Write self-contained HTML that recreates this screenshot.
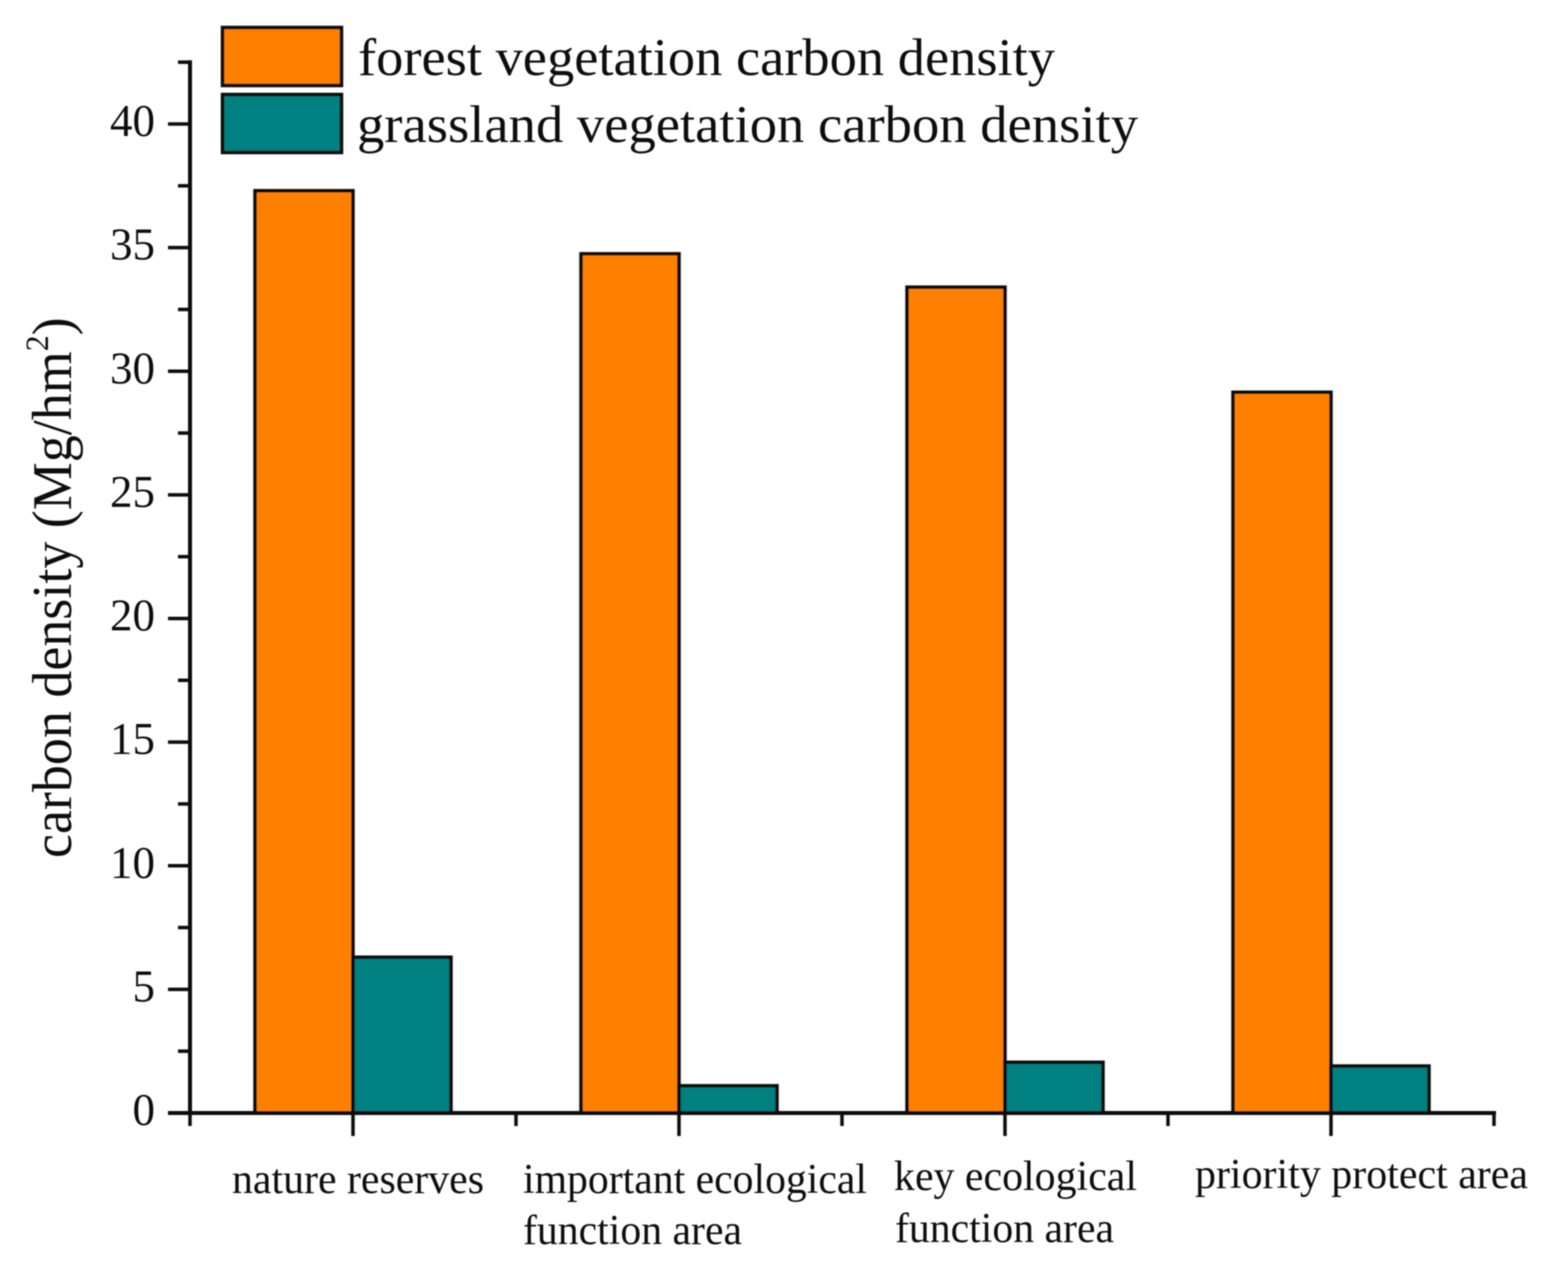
<!DOCTYPE html>
<html lang="en">
<head>
<meta charset="utf-8">
<title>Carbon density by area type</title>
<style>
html,body{margin:0;padding:0;background:#fff;width:1554px;height:1279px;overflow:hidden}
svg{display:block}
text{font-family:"Liberation Serif",serif;fill:#111}
</style>
</head>
<body>
<svg id="chart" width="1554" height="1279" viewBox="0 0 1554 1279" xmlns="http://www.w3.org/2000/svg">
<defs><filter id="soft" x="-2%" y="-2%" width="104%" height="104%"><feGaussianBlur stdDeviation="0.6"/></filter></defs>
<g id="root" filter="url(#soft)">
<g>
<rect x="222.5" y="27.5" width="119" height="58" fill="#ff8000" stroke="#111" stroke-width="3.5"/>
<text x="358" y="75" font-size="53" textLength="697" lengthAdjust="spacingAndGlyphs">forest vegetation carbon density</text>
<rect x="222.5" y="94.5" width="119" height="58" fill="#008080" stroke="#111" stroke-width="3.5"/>
<text x="357" y="142" font-size="53" textLength="781" lengthAdjust="spacingAndGlyphs">grassland vegetation carbon density</text>
</g>
<text transform="translate(71,858) rotate(-90) scale(0.964,1)" font-size="56">carbon density (Mg/hm<tspan font-size="33" dy="-23">2</tspan><tspan dy="23">)</tspan></text>
</g>
<script>
var categories = ["nature reserves", "important ecological function area", "key ecological function area", "priority protect area"];
var forestValues = [37.3, 34.75, 33.4, 29.15];
var grasslandValues = [6.3, 1.1, 2.05, 1.9];
var yTickLabels = ["0", "5", "10", "15", "20", "25", "30", "35", "40"];
var yMinorTicks = [2.5, 7.5, 12.5, 17.5, 22.5, 27.5, 32.5, 37.5, 42.5];
var categoryLines = [["nature reserves"], ["important ecological", "function area"], ["key ecological", "function area"], ["priority protect area"]];

var NS = 'http://www.w3.org/2000/svg';
var root = document.getElementById('root');
var plotLeft = 190, plotRight = 1494, plotBottom = 1113, unitHeight = 24.725;
var slotWidth = (plotRight - plotLeft) / categories.length;
var barWidth = 98;
function yScale(v) { return plotBottom - v * unitHeight; }
function xCenter(i) { return plotLeft + slotWidth * (i + 0.5); }
function make(tag, attrs, parent) {
  var el = document.createElementNS(NS, tag);
  for (var k in attrs) { el.setAttribute(k, attrs[k]); }
  parent.appendChild(el);
  return el;
}
function drawBar(value, x, fill, name) {
  var bar = make('rect', { x: x, y: yScale(value), width: barWidth, height: plotBottom - yScale(value), fill: fill, stroke: '#111', 'stroke-width': 3.5 }, root);
  
  
}
categories.forEach(function (c, i) {
  drawBar(forestValues[i], xCenter(i) - barWidth, '#ff8000', 'bar-forest-' + (i + 1));
  drawBar(grasslandValues[i], xCenter(i), '#008080', 'bar-grassland-' + (i + 1));
});
var yAxis = make('line', { x1: plotLeft, x2: plotLeft, y1: yScale(42.5) - 2, y2: plotBottom + 2, stroke: '#111', 'stroke-width': 4 }, root);


var xAxis = make('line', { x1: plotLeft - 22, x2: plotRight + 2, y1: plotBottom, y2: plotBottom, stroke: '#111', 'stroke-width': 4 }, root);


yTickLabels.forEach(function (label) {
  var y = yScale(Number(label));
  var tick = make('line', { x1: plotLeft - 22, x2: plotLeft, y1: y, y2: y, stroke: '#111', 'stroke-width': 3.5 }, root);
  
  
  var text = make('text', { x: 155, y: y + 12, 'font-size': 45, 'text-anchor': 'end' }, root);
  
  
  text.textContent = label;
});
yMinorTicks.forEach(function (v) {
  var tick = make('line', { x1: plotLeft - 12, x2: plotLeft, y1: yScale(v), y2: yScale(v), stroke: '#111', 'stroke-width': 3.5 }, root);
  
  
});
for (var j = 0; j <= categories.length; j++) {
  var tx = plotLeft + slotWidth * j;
  var minor = make('line', { x1: tx, x2: tx, y1: plotBottom, y2: plotBottom + 13, stroke: '#111', 'stroke-width': 3.5 }, root);
  
  
}
categories.forEach(function (c, i) {
  var major = make('line', { x1: xCenter(i), x2: xCenter(i), y1: plotBottom, y2: plotBottom + 23, stroke: '#111', 'stroke-width': 3.5 }, root);
  
  
});
var labelX = [[232], [523, 523], [894, 895], [1195]];
var labelY = [[1193], [1193, 1244], [1190, 1242], [1188]];
var labelW = [[252], [344, 219], [243, 219], [333]];
categoryLines.forEach(function (lines, i) {
  lines.forEach(function (line, k) {
    var t = make('text', { x: labelX[i][k], y: labelY[i][k], 'font-size': 42, textLength: labelW[i][k], lengthAdjust: 'spacingAndGlyphs' }, root);
    
    
    t.textContent = line;
  });
});
</script>
</svg>
</body>
</html>
